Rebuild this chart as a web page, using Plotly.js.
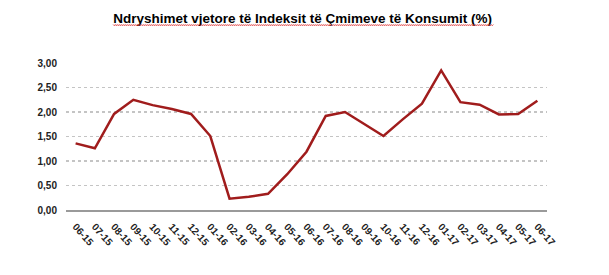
<!DOCTYPE html>
<html>
<head>
<meta charset="utf-8">
<script src="https://cdn.plot.ly/plotly-3.0.1.min.js"></script>
<style>html,body{margin:0;padding:0;background:#fff;}#chart{width:609px;height:275px;}</style>
</head>
<body>
<div id="chart"></div>
<script>
var months = ["06-15","07-15","08-15","09-15","10-15","11-15","12-15","01-16","02-16","03-16","04-16","05-16","06-16","07-16","08-16","09-16","10-16","11-16","12-16","01-17","02-17","03-17","04-17","05-17","06-17"];
var inflation = [1.36,1.26,1.96,2.25,2.14,2.06,1.96,1.51,0.23,0.27,0.33,0.73,1.19,1.92,2.00,1.75,1.51,1.85,2.17,2.85,2.20,2.15,1.95,1.96,2.23];
var yTicks = [0,0.5,1,1.5,2,2.5,3];
var yTickText = ["0,00","0,50","1,00","1,50","2,00","2,50","3,00"];
var titleText = "Ndryshimet vjetore të Indeksit të Çmimeve të Konsumit (%)";

var trace = {
  x: months, y: inflation, type: "scatter", mode: "lines",
  line: {color: "#a01c1c", width: 2.5},
  hoverinfo: "skip"
};
var layout = {
  width: 609, height: 275,
  margin: {l: 66, r: 62, t: 63, b: 65},
  paper_bgcolor: "#ffffff", plot_bgcolor: "#ffffff",
  showlegend: false,
  title: {text: "<b>" + titleText + "</b>", x: 0.497, xanchor: "center", y: 0.935, yanchor: "middle",
          font: {family: "Liberation Sans, Arial, sans-serif", size: 13.5, color: "#000"}},
  xaxis: {type: "category", range: [-0.5, 24.5], tickangle: 48, showgrid: false,
          showline: true, linecolor: "#9a9a9a", linewidth: 2, ticks: "", ticklabelstandoff: 5,
          tickfont: {family: "Liberation Sans, Arial, sans-serif", size: 10, color: "#222", weight: "bold"}, fixedrange: true},
  yaxis: {range: [0, 3], tickvals: yTicks, ticktext: yTickText, showgrid: true,
          gridcolor: "#c4c4c4", gridwidth: 1.5, griddash: "dot", zeroline: false, showline: false, ticks: "",
          ticklabelstandoff: 8,
          tickfont: {family: "Liberation Sans, Arial, sans-serif", size: 10, color: "#222", weight: "bold"}, fixedrange: true}
};
Plotly.newPlot("chart", [trace], layout, {displayModeBar: false, staticPlot: true}).then(function(gd){
  // red spell-check style underline beneath the title
  var svg = gd.querySelector(".infolayer");
  var t = gd.querySelector(".g-gtitle text");
  if (t && svg) {
    var bb = t.getBBox();
    var ns = "http://www.w3.org/2000/svg";
    var p = document.createElementNS(ns, "path");
    var y0 = bb.y + bb.height - 1;
    var d = "M" + bb.x + "," + y0;
    for (var x = bb.x; x < bb.x + bb.width; x += 2) {
      d += " L" + (x + 1) + "," + (y0 + 1) + " L" + (x + 2) + "," + y0;
    }
    p.setAttribute("d", d);
    p.setAttribute("stroke", "#e03030");
    p.setAttribute("stroke-width", "1");
    p.setAttribute("fill", "none");
    svg.appendChild(p);
  }
});
</script>
</body>
</html>
